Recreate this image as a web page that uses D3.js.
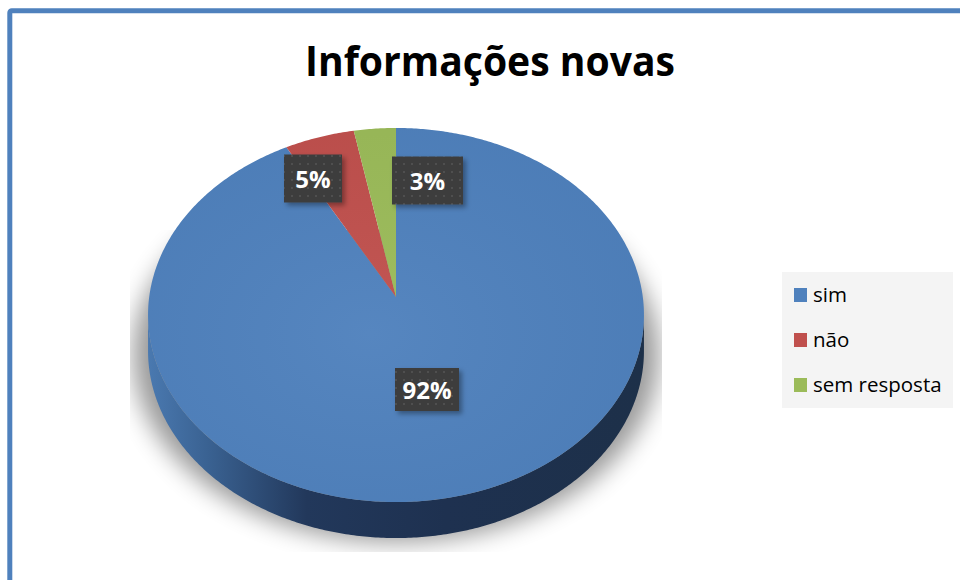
<!DOCTYPE html>
<html><head><meta charset="utf-8">
<script src="https://cdn.jsdelivr.net/npm/d3@7"></script>
<style>html,body{margin:0;padding:0;background:#fff;}svg{display:block;}</style>
</head><body>
<svg id="chart" width="960" height="580"></svg>
<script>
// ---- data ----
const title = "Informações novas";
const categories = ["sim", "não", "sem resposta"];
const values = [92, 5, 3];
const labels = ["92%", "5%", "3%"];
const colors = ["#4f81bd", "#c0504d", "#9bbb59"];

// ---- layout constants ----
const X0 = 396, Y0 = 297;      // projected pie centre
const A = 246.8, B = 185.3, K = 0.0963; // perspective projection of the disc
const DEPTH = 36;
const labelBoxes = [ // layout of data-label boxes (centre, size)
  {cx: 427, cy: 389.5, w: 64, h: 43},
  {cx: 313, cy: 178.5, w: 58, h: 48},
  {cx: 427.5, cy: 180.5, w: 71, h: 48}
];

const svg = d3.select("#chart");
const defs = svg.append("defs");

function proj(theta, f, dy) {
  const u = f * Math.sin(theta), v = f * Math.cos(theta), w = 1 + K * v;
  return [X0 + A * u / w, Y0 - B * v / w + (dy || 0)];
}
function arcPts(a0, a1, dy) {
  const n = Math.max(2, Math.ceil(Math.abs(a1 - a0) / 0.01));
  return d3.range(n + 1).map(i => proj(a0 + (a1 - a0) * i / n, 1, dy));
}
const line = d3.line();

// shadow
const blur = defs.append("filter").attr("id", "sblur").attr("x", "-30%").attr("y", "-30%").attr("width", "160%").attr("height", "160%");
blur.append("feGaussianBlur").attr("stdDeviation", 12);
defs.append("clipPath").attr("id", "sclip").append("rect").attr("x", 130).attr("y", 230).attr("width", 532).attr("height", 322);

// side gradient
const sg = defs.append("linearGradient").attr("id", "sideGrad").attr("gradientUnits", "userSpaceOnUse")
  .attr("x1", 148).attr("x2", 644).attr("y1", 0).attr("y2", 0);
[[0, "#4a79b0"], [0.12, "#3a6292"], [0.32, "#22385b"], [0.6, "#1e3150"], [1, "#1d3049"]]
  .forEach(([o, c]) => sg.append("stop").attr("offset", o).attr("stop-color", c));

// top gradient (subtle)
const tg = defs.append("radialGradient").attr("id", "topGrad").attr("cx", "45%").attr("cy", "55%").attr("r", "60%");
tg.append("stop").attr("offset", 0).attr("stop-color", "#fff").attr("stop-opacity", 0.04);
tg.append("stop").attr("offset", 1).attr("stop-color", "#000").attr("stop-opacity", 0.03);

// dotted pattern for label boxes
const pat = defs.append("pattern").attr("id", "dots").attr("patternUnits", "userSpaceOnUse")
  .attr("width", 8).attr("height", 8);
pat.append("rect").attr("width", 8).attr("height", 8).attr("fill", "#3c3c3c");
pat.append("circle").attr("cx", 4).attr("cy", 4).attr("r", 1.1).attr("fill", "#555");
const ds = defs.append("filter").attr("id", "dshadow").attr("x", "-20%").attr("y", "-20%").attr("width", "150%").attr("height", "150%");
ds.append("feDropShadow").attr("dx", 3).attr("dy", 3).attr("stdDeviation", 2.5).attr("flood-color", "#000").attr("flood-opacity", 0.35);

// frame
svg.append("rect").attr("x", 9.8).attr("y", 10.8).attr("width", 1100).attr("height", 1100)
  .attr("rx", 2).attr("fill", "none").attr("stroke", "#4f81bd").attr("stroke-width", 5);

// title
svg.append("text").attr("x", 490).attr("y", 76).attr("text-anchor", "middle")
  .attr("font-family", "'Open Sans', sans-serif").attr("font-weight", 700).attr("font-size", 42)
  .attr("textLength", 370).attr("lengthAdjust", "spacingAndGlyphs").attr("fill", "#000").text(title);

// pie
const pie = d3.pie().sort(null).value(d => d).startAngle(0).endAngle(2 * Math.PI);
const arcs = pie(values);

const g = svg.append("g");
// shadow shape
const full = arcPts(0, 2 * Math.PI, DEPTH + 4);
g.append("g").attr("clip-path", "url(#sclip)").append("path")
  .attr("d", line(full.map(([x, y]) => [X0 + (x - X0) * 1.06, y])) + "Z")
  .attr("fill", "#000").attr("opacity", 0.4).attr("filter", "url(#sblur)");

// side (front visible part)
const tL = Math.acos(-K), tR = 2 * Math.PI - Math.acos(-K);
const sideTop = arcPts(tL, tR, 0), sideBot = arcPts(tR, tL, DEPTH);
g.append("path").attr("d", line(sideTop.concat(sideBot)) + "Z").attr("fill", "url(#sideGrad)");

// top slices
arcs.forEach((a, i) => {
  const pts = [[X0, Y0]].concat(arcPts(a.startAngle, a.endAngle, 0));
  g.append("path").attr("d", line(pts) + "Z").attr("fill", colors[i]);
});
g.append("path").attr("d", line(arcPts(0, 2 * Math.PI, 0)) + "Z").attr("fill", "url(#topGrad)");

// data labels
arcs.forEach((a, i) => {
  const b = labelBoxes[i];
  const lg = svg.append("g");
  lg.append("rect").attr("x", b.cx - b.w / 2).attr("y", b.cy - b.h / 2).attr("width", b.w).attr("height", b.h)
    .attr("fill", "url(#dots)").attr("filter", "url(#dshadow)");
  lg.append("text").attr("x", b.cx).attr("y", b.cy + 9).attr("text-anchor", "middle")
    .attr("font-family", "'Open Sans', sans-serif").attr("font-weight", 700).attr("font-size", 24)
    .attr("fill", "#fff").text(labels[i]);
});

// legend
const leg = svg.append("g");
leg.append("rect").attr("x", 782).attr("y", 272).attr("width", 171).attr("height", 136).attr("fill", "#f4f4f4");
const ly = d3.scalePoint().domain(categories).range([295, 385]);
categories.forEach((c, i) => {
  leg.append("rect").attr("x", 794).attr("y", ly(c) - 7).attr("width", 13).attr("height", 14).attr("fill", colors[i]);
  leg.append("text").attr("x", 813).attr("y", ly(c) + 7).attr("font-family", "'Open Sans', sans-serif")
    .attr("font-size", 20.5).attr("fill", "#000").text(c);
});
</script>
</body></html>
